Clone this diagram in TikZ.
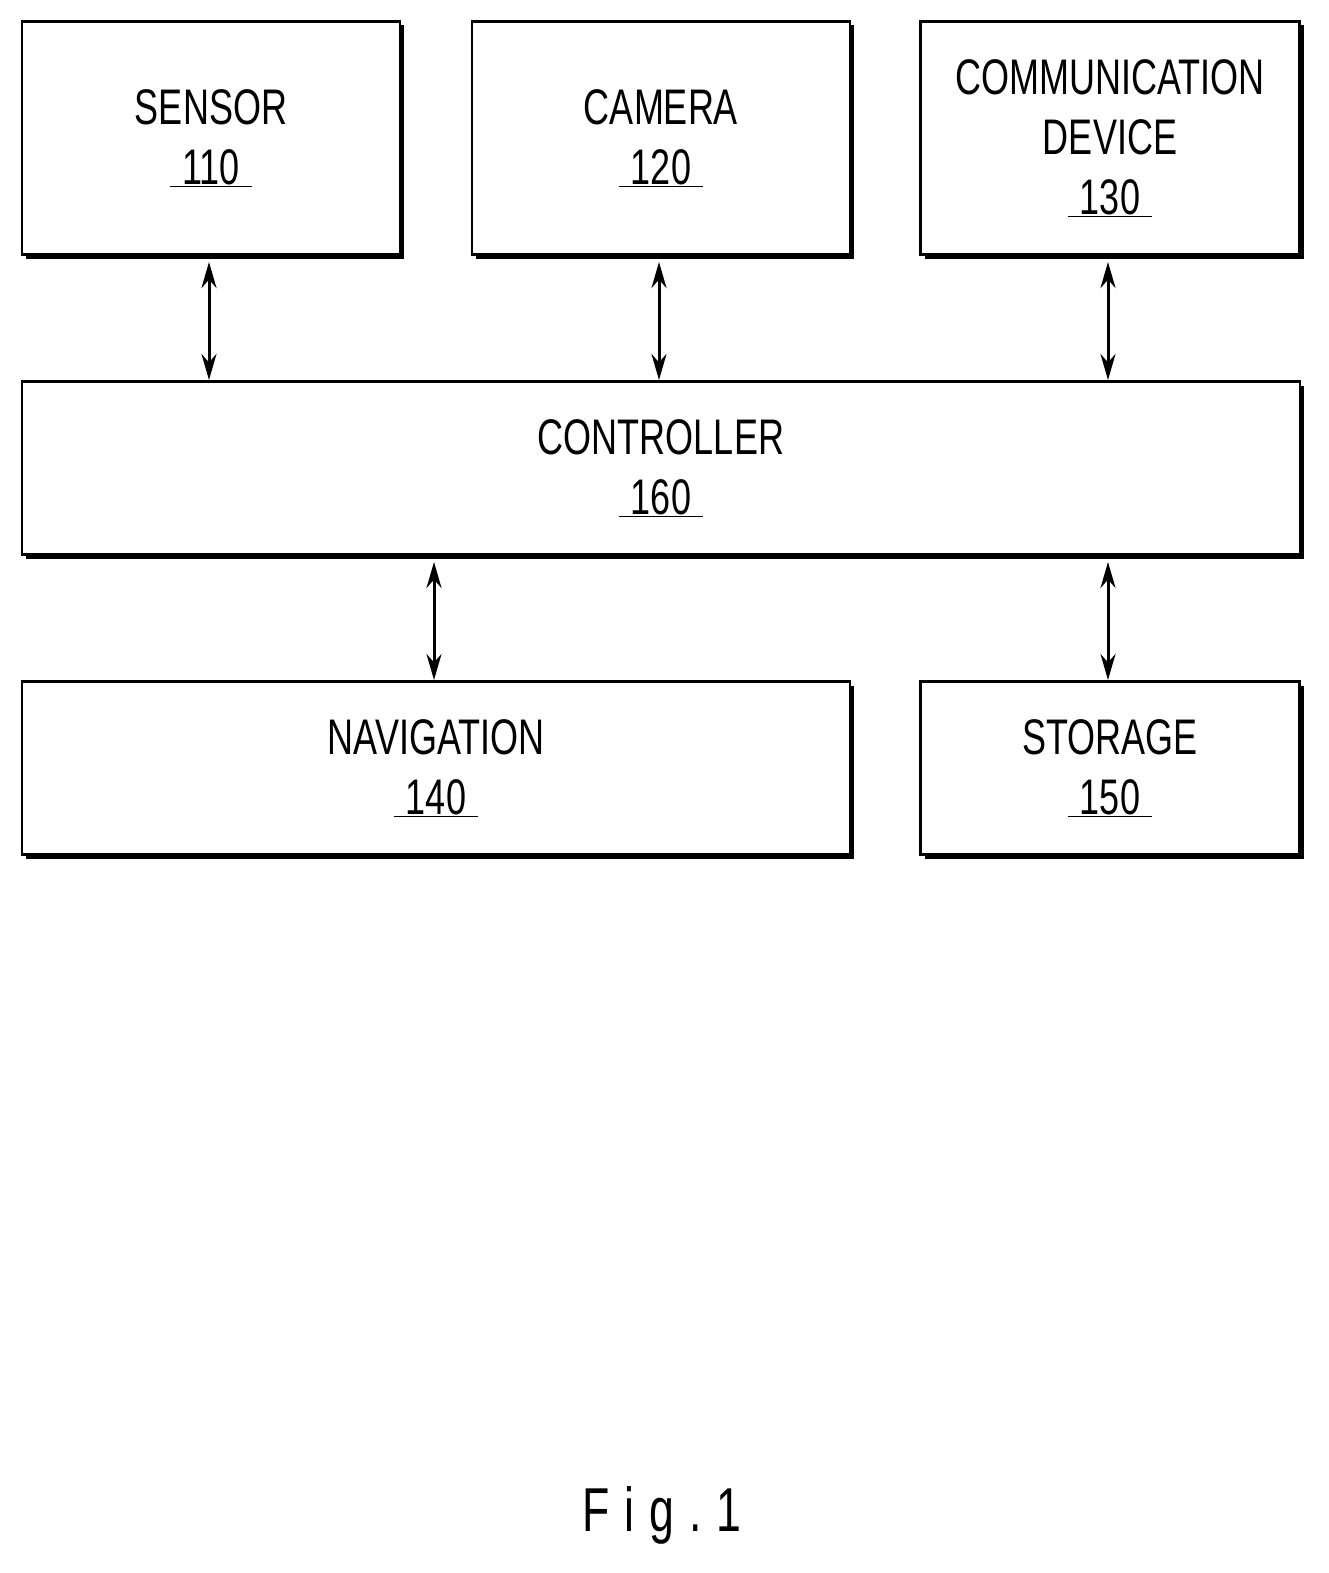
\documentclass[tikz,border=0pt]{standalone}
\usepackage{fontspec}
\usetikzlibrary{shadows,arrows.meta}
\setmainfont{Liberation Sans}
\newcommand\sq[1]{\scalebox{.72}[1]{#1}}
\newcommand\num[1]{\sq{\underline{\,\,#1\,\,}}}
\tikzset{tip/.tip={Stealth[length=26pt,width=15pt]}}
\begin{document}
\begin{tikzpicture}[x=1pt,y=-1pt,
 box/.style={draw,line width=2.5pt,fill=white,align=center,
   font=\fontsize{50}{60}\selectfont,
   general shadow={fill=black,shadow xshift=4pt,shadow yshift=-4pt}},
 arr/.style={tip-tip,line width=3pt}]
\useasboundingbox (0,0) rectangle (1329,1573);
\fill[white] (0,0) rectangle (1329,1573);
\node[box,minimum width=378pt,minimum height=233pt] (s) at (211,138) {\sq{SENSOR}\\\num{110}};
\node[box,minimum width=378pt,minimum height=233pt] (c) at (661,138) {\sq{CAMERA}\\\num{120}};
\node[box,minimum width=379pt,minimum height=233pt] (m) at (1110,138) {\sq{COMMUNICATION}\\\sq{DEVICE}\\\num{130}};
\node[box,minimum width=1278pt,minimum height=173pt] (k) at (661,468) {\sq{CONTROLLER}\\\num{160}};
\node[box,minimum width=828pt,minimum height=173pt] (n) at (436,768) {\sq{NAVIGATION}\\\num{140}};
\node[box,minimum width=379pt,minimum height=173pt] (t) at (1110,768) {\sq{STORAGE}\\\num{150}};
\coordinate (s1) at (209,262); \coordinate (s2) at (209,380);
\coordinate (c1) at (659,262); \coordinate (c2) at (659,380);
\coordinate (m1) at (1108,262); \coordinate (m2) at (1108,380);
\coordinate (n1) at (434,562); \coordinate (n2) at (434,680);
\coordinate (t1) at (1108,562); \coordinate (t2) at (1108,680);
\draw[arr] (s1) -- (s2); \draw[arr] (c1) -- (c2); \draw[arr] (m1) -- (m2);
\draw[arr] (n1) -- (n2); \draw[arr] (t1) -- (t2);
\node[font=\fontsize{62}{70}\selectfont] (f) at (662,1515) {\sq{F\,\,i\,\,g\,\,.\,\,1}};
\end{tikzpicture}
\end{document}
